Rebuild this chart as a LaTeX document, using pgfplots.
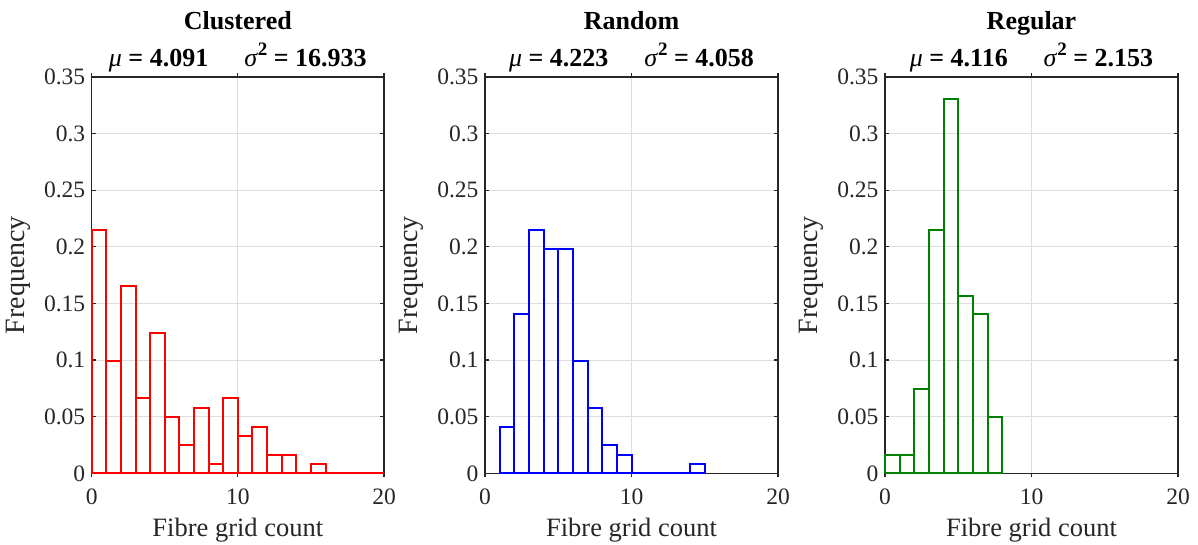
\documentclass[border=0pt]{standalone}
\usepackage{fontspec}
\setmainfont{Liberation Serif}
\usepackage{pgfplots}
\usepackage{pgfplotstable}
\pgfplotsset{compat=1.18}
\definecolor{axgray}{HTML}{262626}
\definecolor{mygreen}{rgb}{0,0.5,0}
% x = left edge of each unit-wide bin
\pgfplotstableread{
x y
0 0.2149
1 0.0992
2 0.1653
3 0.0661
4 0.1240
5 0.0496
6 0.0248
7 0.0579
8 0.0083
9 0.0661
10 0.0331
11 0.0413
12 0.0165
13 0.0165
14 0
15 0.0083
16 0
17 0
18 0
19 0
}\clustered
\pgfplotstableread{
x y
1 0.0413
2 0.1405
3 0.2149
4 0.1983
5 0.1983
6 0.0992
7 0.0579
8 0.0248
9 0.0165
10 0
11 0
12 0
13 0
14 0.0083
}\randomd
\pgfplotstableread{
x y
0 0.0165
1 0.0165
2 0.0744
3 0.2149
4 0.3306
5 0.1570
6 0.1405
7 0.0496
}\regular
\pgfplotsset{
  histax/.style={
    scale only axis,
    width=293bp, height=396.3bp,
    anchor=south west,
    xmin=0, xmax=20, ymin=0, ymax=0.35,
    xtick={0,10,20}, xticklabels={0,10,20},
    ytick={0,0.05,0.1,0.15,0.2,0.25,0.3,0.35},
    yticklabels={0,0.05,0.1,0.15,0.2,0.25,0.3,0.35},
    grid=major,
    grid style={line width=1bp, color=black!13},
    axis line style={line width=1.2bp, color=axgray},
    tick style={line width=1.2bp, color=axgray},
    major tick length=4bp,
    tick align=inside,
    tick label style={font=\fontsize{23.5bp}{28bp}\selectfont, text=axgray},
    xticklabel style={yshift=-8bp},
    yticklabel style={xshift=-3bp},
    label style={text=axgray},
    xlabel={Fibre grid count},
    xlabel style={font=\fontsize{26.5bp}{30bp}\selectfont, at={(axis description cs:0.5,0)}, anchor=base, yshift=-62.7bp},
    ylabel={Frequency},
    ylabel style={font=\fontsize{28bp}{30bp}\selectfont, at={(axis description cs:-0.2287,0.5)}, anchor=base},
    clip=false,
    ybar, bar width=1, bar shift=0,
  },
  histplot/.style={fill=none, line width=2bp, draw=#1},
}
\newcommand{\sqr}{\raisebox{0.45em}{\fontsize{19bp}{20bp}\selectfont 2}}
\newcommand{\ttl}[2]{%
  \node[anchor=base, font=\fontsize{26bp}{30bp}\selectfont\bfseries] at (rel axis cs:0.5,1) [yshift=47.7bp] {#1};
  \node[anchor=base, font=\fontsize{26bp}{30bp}\selectfont\bfseries] at (rel axis cs:0.5,1) [yshift=10bp] {#2};
}
\begin{document}
\begin{tikzpicture}
\useasboundingbox (0,0) rectangle (1198bp,545bp);
\begin{axis}[histax, at={(91.7bp,71.7bp)}, width=292.3bp]
  \addplot[histplot=red] table[x expr=\thisrow{x}+0.5, y=y] {\clustered};
  \ttl{Clustered}{\textmd{\textit{μ}} = 4.091\hspace{36bp}\textmd{\textit{σ}}\sqr{} = 16.933}
\end{axis}
\begin{axis}[histax, at={(485bp,71.7bp)}]
  \addplot[histplot=blue] table[x expr=\thisrow{x}+0.5, y=y] {\randomd};
  \ttl{Random}{\textmd{\textit{μ}} = 4.223\hspace{36bp}\textmd{\textit{σ}}\sqr{} = 4.058}
\end{axis}
\begin{axis}[histax, at={(885bp,71.7bp)}]
  \addplot[histplot=mygreen] table[x expr=\thisrow{x}+0.5, y=y] {\regular};
  \ttl{Regular}{\textmd{\textit{μ}} = 4.116\hspace{36bp}\textmd{\textit{σ}}\sqr{} = 2.153}
\end{axis}
\end{tikzpicture}
\end{document}
